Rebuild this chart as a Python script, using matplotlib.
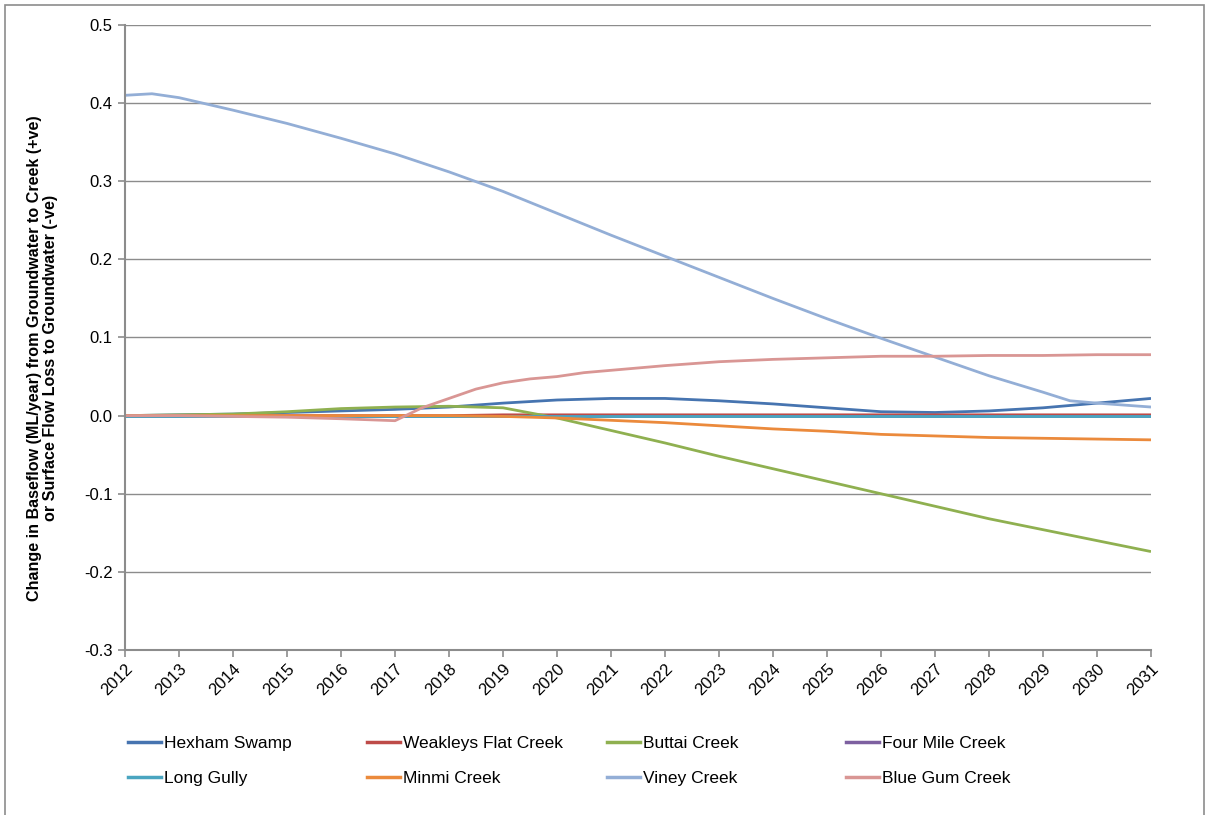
import matplotlib
matplotlib.use("Agg")
import matplotlib.pyplot as plt
from matplotlib.lines import Line2D
from matplotlib.patches import Rectangle

plt.rcParams['font.family'] = ['Liberation Sans', 'DejaVu Sans']

# Yearly series (ML/year)
years = list(range(2012, 2032))
hexham_swamp = [0.000, 0.001, 0.002, 0.004, 0.006, 0.008, 0.011, 0.016, 0.020, 0.022,
                0.022, 0.019, 0.015, 0.010, 0.005, 0.004, 0.006, 0.010, 0.016, 0.022]
weakleys_flat = [0.000, 0.000, 0.000, 0.000, 0.000, 0.000, 0.000, 0.001, 0.001, 0.001,
                 0.001, 0.001, 0.001, 0.001, 0.001, 0.001, 0.001, 0.001, 0.001, 0.001]
buttai_creek = [0.000, 0.001, 0.002, 0.005, 0.009, 0.011, 0.012, 0.010, -0.003, -0.019,
                -0.035, -0.052, -0.068, -0.084, -0.100, -0.116, -0.132, -0.146, -0.160, -0.174]
four_mile = [0.0] * 20
long_gully = [0.0] * 20
minmi_creek = [0.000, 0.000, 0.000, 0.000, 0.000, 0.000, 0.000, -0.001, -0.003, -0.006,
               -0.009, -0.013, -0.017, -0.020, -0.024, -0.026, -0.028, -0.029, -0.030, -0.031]

viney_years = [2012, 2012.5, 2013, 2014, 2015, 2016, 2017, 2018, 2019, 2020, 2021, 2022,
               2023, 2024, 2025, 2026, 2027, 2028, 2029, 2029.5, 2030, 2031]
viney_creek = [0.410, 0.412, 0.407, 0.391, 0.374, 0.355, 0.335, 0.312, 0.287, 0.259, 0.231,
               0.204, 0.177, 0.150, 0.124, 0.099, 0.075, 0.051, 0.030, 0.019, 0.016, 0.011]

bluegum_years = [2012, 2013, 2014, 2015, 2016, 2017, 2017.5, 2018, 2018.5, 2019, 2019.5,
                 2020, 2020.5, 2021, 2022, 2023, 2024, 2025, 2026, 2027, 2028, 2029, 2030, 2031]
blue_gum_creek = [0.000, 0.000, -0.001, -0.002, -0.004, -0.0065, 0.010, 0.022, 0.034, 0.042,
                  0.047, 0.050, 0.055, 0.058, 0.064, 0.069, 0.072, 0.074, 0.076, 0.076,
                  0.077, 0.077, 0.078, 0.078]

series = [
    ("Hexham Swamp", years, hexham_swamp, "#4674B0"),
    ("Weakleys Flat Creek", years, weakleys_flat, "#BE4B48"),
    ("Buttai Creek", years, buttai_creek, "#8FB050"),
    ("Four Mile Creek", years, four_mile, "#7D60A0"),
    ("Long Gully", years, long_gully, "#4AA5C0"),
    ("Minmi Creek", years, minmi_creek, "#EB8A3C"),
    ("Viney Creek", viney_years, viney_creek, "#93AED6"),
    ("Blue Gum Creek", bluegum_years, blue_gum_creek, "#D99694"),
]

W, H = 1209, 815
fig = plt.figure(figsize=(W / 100, H / 100), dpi=100)
left, right, top, bottom = 125, 1151, 25, 650
ax = fig.add_axes([left / W, 1 - bottom / H, (right - left) / W, (bottom - top) / H])

for name, xs, ys, col in series:
    ax.plot(xs, ys, color=col, lw=2.0, label=name, solid_capstyle='butt')

grid_col = "#8C8C8C"
ax.set_xlim(2012, 2031)
ax.set_ylim(-0.3, 0.5)
yt = [-0.3, -0.2, -0.1, 0.0, 0.1, 0.2, 0.3, 0.4, 0.5]
ax.set_yticks(yt)
ax.set_yticklabels([f"{v:.1f}" for v in yt], fontsize=12)
ax.set_xticks(years)
ax.set_xticklabels([str(y) for y in years], rotation=45, ha='right', va='top',
                   rotation_mode='anchor', fontsize=12)
ax.yaxis.grid(True, color=grid_col, lw=1.0)
ax.set_axisbelow(True)
for s in ['top', 'right']:
    ax.spines[s].set_visible(False)
for s in ['left', 'bottom']:
    ax.spines[s].set_color(grid_col)
    ax.spines[s].set_linewidth(1.5)
ax.tick_params(axis='both', colors=grid_col, labelcolor='black', length=5, width=1.2)
ax.tick_params(axis='y', pad=4)
ax.tick_params(axis='x', pad=3)

ax.set_ylabel("Change in Baseflow (ML/year) from Groundwater to Creek (+ve)\n"
              "or Surface Flow Loss to Groundwater (-ve)",
              fontsize=11.6, fontweight='bold', linespacing=1.05)
ax.yaxis.set_label_coords((58 - left) / (right - left), (bottom - 358) / (bottom - top))

# Legend drawn as a 2 x 4 grid below the axes
col_x = [128, 367, 607, 846]
row_y = [742, 777]
for i, (name, xs, ys, col) in enumerate(series):
    r, c = divmod(i, 4)
    x0 = col_x[c]
    y0 = 1 - row_y[r] / H
    fig.add_artist(Line2D([x0 / W, (x0 + 33) / W], [y0, y0], color=col, lw=2.5,
                          transform=fig.transFigure))
    fig.text((x0 + 36) / W, y0, name, fontsize=12.5, va='center_baseline', ha='left')

# Outer chart border
fig.add_artist(Rectangle((5 / W, -0.01), (1204 - 5) / W, 1.01 - 5 / H,
                         transform=fig.transFigure, fill=False,
                         edgecolor="#8C8C8C", lw=1.2))

fig.savefig("out.png", dpi=100)
